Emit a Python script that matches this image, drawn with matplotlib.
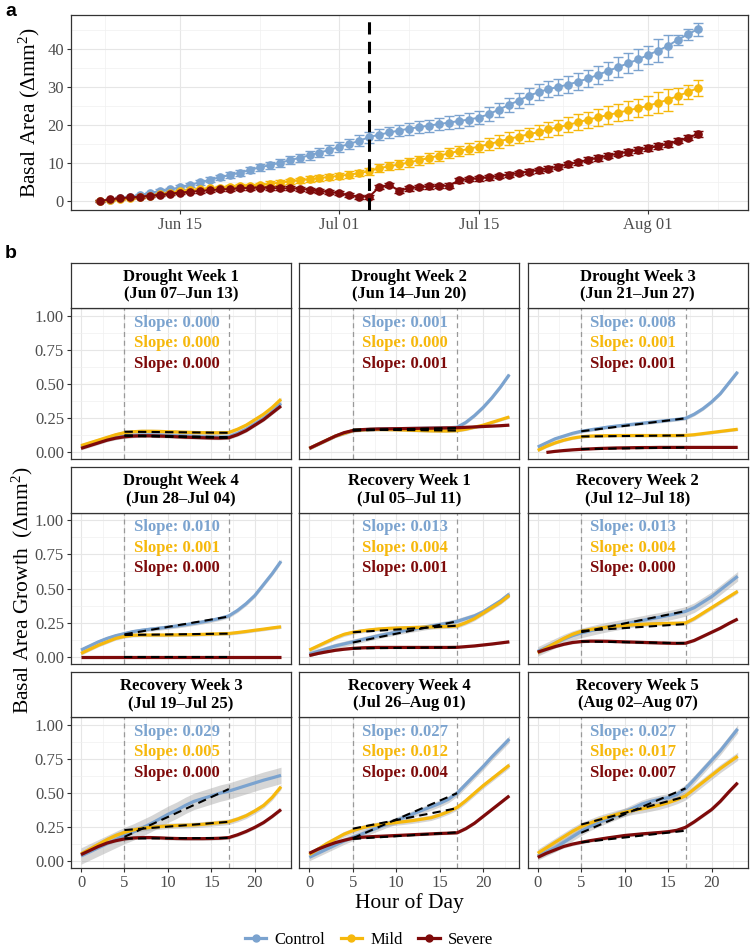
import numpy as np
import pandas as pd
import matplotlib
matplotlib.use('Agg')
import matplotlib.pyplot as plt
import matplotlib.dates as mdates
from matplotlib.lines import Line2D

# ---------------- data: panel a (daily basal area) ----------------
groups = ['Control', 'Mild', 'Severe']
colors = ['#7BA3CF', '#F6B80C', '#7E0A0A']

dates = pd.date_range('2023-06-07', '2023-08-06', freq='D')

ctrl_area = [0.0, 0.3, 0.7, 1.1, 1.6, 2.1, 2.6, 3.0, 3.6, 4.2, 4.9, 5.5, 6.2, 6.8, 7.4, 8.1,
             8.8, 9.4, 10.0, 10.7, 11.3, 12.0, 12.7, 13.4, 14.2, 15.0, 15.8, 16.8, 17.4, 18.0,
             18.5, 19.0, 19.4, 19.8, 20.2, 20.6, 21.0, 21.4, 21.9, 22.8, 24.0, 25.2, 26.4, 27.6,
             28.6, 29.4, 30.0, 30.6, 31.4, 32.2, 33.2, 34.2, 35.2, 36.2, 37.2, 38.4, 39.5, 40.8,
             42.4, 43.8, 45.2]
mild_area = [0.0, 0.2, 0.4, 0.7, 1.0, 1.4, 1.8, 2.1, 2.5, 2.8, 3.1, 3.3, 3.5, 3.7, 3.9, 4.0,
             4.2, 4.5, 4.8, 5.1, 5.4, 5.7, 6.0, 6.3, 6.6, 6.9, 7.3, 7.8, 8.6, 9.1, 9.6, 10.1,
             10.7, 11.3, 11.9, 12.5, 13.1, 13.7, 14.3, 14.9, 15.6, 16.3, 16.9, 17.5, 18.1, 18.8,
             19.4, 20.0, 20.7, 21.4, 22.0, 22.6, 23.2, 23.8, 24.4, 25.0, 25.8, 26.6, 27.6, 28.6,
             29.7]
sev_area = [0.0, 0.4, 0.7, 0.9, 1.1, 1.4, 1.6, 1.9, 2.2, 2.4, 2.6, 2.8, 3.0, 3.1, 3.3, 3.4,
            3.5, 3.4, 3.3, 3.3, 3.2, 2.9, 2.6, 2.3, 2.0, 1.5, 1.1, 1.1, 3.6, 4.2, 2.7, 3.3,
            3.6, 3.8, 3.9, 4.0, 5.4, 5.7, 5.9, 6.2, 6.5, 6.9, 7.3, 7.7, 8.1, 8.5, 9.0, 9.6,
            10.2, 10.8, 11.3, 11.9, 12.4, 12.9, 13.4, 13.9, 14.4, 15.0, 15.8, 16.6, 17.6]

ctrl_se = [0.1, 0.15, 0.2, 0.25, 0.3, 0.35, 0.4, 0.45, 0.5, 0.55, 0.6, 0.65, 0.7, 0.75, 0.8,
           0.85, 0.9, 0.95, 1.0, 1.05, 1.1, 1.15, 1.2, 1.25, 1.3, 1.35, 1.4, 1.45, 1.5, 1.5,
           1.55, 1.55, 1.6, 1.6, 1.65, 1.65, 1.7, 1.7, 1.75, 1.8, 1.85, 1.9, 1.95, 2.0, 2.05,
           2.1, 2.15, 2.2, 2.25, 2.3, 2.35, 2.45, 2.55, 2.65, 2.75, 2.4, 3.0, 2.85, 1.3, 1.5,
           1.7]
mild_se = [0.1, 0.12, 0.15, 0.18, 0.2, 0.22, 0.25, 0.28, 0.3, 0.33, 0.36, 0.4, 0.43, 0.46,
           0.5, 0.53, 0.56, 0.6, 0.63, 0.66, 0.7, 0.73, 0.76, 0.8, 0.83, 0.86, 0.88, 0.9, 1.0,
           1.05, 1.1, 1.15, 1.2, 1.25, 1.3, 1.35, 1.4, 1.45, 1.5, 1.6, 1.65, 1.7, 1.75, 1.8,
           1.85, 1.9, 1.95, 2.0, 2.05, 2.1, 2.2, 2.25, 2.3, 2.4, 2.45, 2.5, 2.8, 2.9, 2.0, 1.8,
           2.0]
sev_se = [0.2, 0.2, 0.25, 0.25, 0.3, 0.3, 0.3, 0.35, 0.35, 0.35, 0.4, 0.4, 0.4, 0.45, 0.45,
          0.45, 0.5, 0.5, 0.5, 0.5, 0.5, 0.55, 0.55, 0.55, 0.55, 0.55, 0.55, 0.55, 0.6, 0.6,
          0.6, 0.6, 0.6, 0.6, 0.6, 0.6, 0.6, 0.6, 0.6, 0.6, 0.6, 0.6, 0.6, 0.65, 0.65, 0.65,
          0.65, 0.65, 0.65, 0.65, 0.7, 0.7, 0.7, 0.7, 0.7, 0.7, 0.7, 0.7, 0.7, 0.7, 0.7]

# ---------------- data: panel b (hourly growth per week) ----------------
hours = list(range(24))
week_names = ['Drought Week 1', 'Drought Week 2', 'Drought Week 3', 'Drought Week 4',
              'Recovery Week 1', 'Recovery Week 2', 'Recovery Week 3', 'Recovery Week 4',
              'Recovery Week 5']
week_ranges = ['(Jun 07\u2013Jun 13)', '(Jun 14\u2013Jun 20)', '(Jun 21\u2013Jun 27)',
               '(Jun 28\u2013Jul 04)', '(Jul 05\u2013Jul 11)', '(Jul 12\u2013Jul 18)',
               '(Jul 19\u2013Jul 25)', '(Jul 26\u2013Aug 01)', '(Aug 02\u2013Aug 07)']

ctrl_growth = [
    [0.04, 0.06, 0.08, 0.10, 0.11, 0.12, 0.125, 0.128, 0.128, 0.127, 0.125, 0.122, 0.12, 0.117, 0.115, 0.113, 0.112, 0.115, 0.14, 0.17, 0.21, 0.25, 0.30, 0.36],
    [0.03, 0.06, 0.09, 0.12, 0.14, 0.16, 0.165, 0.17, 0.172, 0.173, 0.174, 0.175, 0.176, 0.177, 0.178, 0.179, 0.18, 0.185, 0.22, 0.27, 0.33, 0.40, 0.48, 0.57],
    [0.04, 0.07, 0.10, 0.12, 0.14, 0.155, 0.165, 0.175, 0.185, 0.193, 0.2, 0.207, 0.214, 0.221, 0.228, 0.235, 0.242, 0.25, 0.28, 0.32, 0.37, 0.43, 0.51, 0.59],
    [0.05, 0.08, 0.11, 0.135, 0.155, 0.17, 0.185, 0.195, 0.203, 0.21, 0.218, 0.226, 0.235, 0.245, 0.256, 0.268, 0.282, 0.30, 0.34, 0.39, 0.45, 0.53, 0.61, 0.70],
    [0.02, 0.04, 0.06, 0.08, 0.095, 0.11, 0.125, 0.14, 0.155, 0.168, 0.18, 0.192, 0.203, 0.214, 0.225, 0.236, 0.247, 0.26, 0.28, 0.30, 0.33, 0.37, 0.41, 0.46],
    [0.04, 0.07, 0.10, 0.13, 0.155, 0.175, 0.19, 0.205, 0.218, 0.23, 0.242, 0.254, 0.266, 0.278, 0.29, 0.303, 0.317, 0.333, 0.36, 0.40, 0.44, 0.49, 0.54, 0.59],
    [0.04, 0.07, 0.10, 0.13, 0.16, 0.19, 0.215, 0.245, 0.275, 0.31, 0.345, 0.375, 0.41, 0.44, 0.46, 0.48, 0.50, 0.515, 0.535, 0.555, 0.575, 0.595, 0.612, 0.63],
    [0.03, 0.06, 0.09, 0.12, 0.15, 0.177, 0.2, 0.225, 0.25, 0.275, 0.30, 0.325, 0.35, 0.375, 0.4, 0.425, 0.455, 0.50, 0.565, 0.63, 0.695, 0.765, 0.83, 0.896],
    [0.04, 0.07, 0.10, 0.14, 0.18, 0.22, 0.255, 0.285, 0.31, 0.335, 0.36, 0.39, 0.42, 0.44, 0.455, 0.467, 0.49, 0.533, 0.6, 0.67, 0.74, 0.81, 0.89, 0.97],
]
mild_growth = [
    [0.05, 0.07, 0.09, 0.11, 0.13, 0.145, 0.152, 0.155, 0.155, 0.154, 0.152, 0.15, 0.148, 0.146, 0.145, 0.144, 0.144, 0.146, 0.17, 0.2, 0.24, 0.28, 0.33, 0.39],
    [0.03, 0.06, 0.09, 0.12, 0.14, 0.16, 0.165, 0.168, 0.168, 0.167, 0.166, 0.164, 0.162, 0.16, 0.158, 0.157, 0.157, 0.16, 0.17, 0.185, 0.2, 0.22, 0.24, 0.26],
    [0.015, 0.045, 0.07, 0.09, 0.105, 0.115, 0.12, 0.122, 0.123, 0.124, 0.124, 0.124, 0.124, 0.124, 0.124, 0.124, 0.124, 0.125, 0.13, 0.138, 0.146, 0.154, 0.162, 0.17],
    [0.025, 0.055, 0.085, 0.11, 0.135, 0.15, 0.158, 0.16, 0.16, 0.16, 0.16, 0.161, 0.162, 0.163, 0.165, 0.167, 0.169, 0.171, 0.178, 0.186, 0.195, 0.203, 0.212, 0.22],
    [0.05, 0.08, 0.11, 0.14, 0.165, 0.18, 0.19, 0.198, 0.204, 0.208, 0.211, 0.213, 0.215, 0.217, 0.219, 0.221, 0.223, 0.226, 0.25, 0.28, 0.32, 0.36, 0.40, 0.45],
    [0.03, 0.065, 0.1, 0.135, 0.165, 0.187, 0.2, 0.21, 0.218, 0.225, 0.23, 0.235, 0.238, 0.241, 0.243, 0.245, 0.246, 0.248, 0.28, 0.32, 0.36, 0.40, 0.44, 0.48],
    [0.055, 0.09, 0.125, 0.16, 0.19, 0.213, 0.23, 0.242, 0.25, 0.255, 0.26, 0.263, 0.265, 0.267, 0.272, 0.278, 0.284, 0.29, 0.31, 0.335, 0.37, 0.41, 0.47, 0.547],
    [0.05, 0.09, 0.13, 0.165, 0.2, 0.225, 0.245, 0.26, 0.27, 0.278, 0.285, 0.292, 0.3, 0.31, 0.32, 0.34, 0.365, 0.395, 0.445, 0.50, 0.555, 0.605, 0.655, 0.705],
    [0.06, 0.1, 0.14, 0.18, 0.22, 0.255, 0.28, 0.305, 0.325, 0.343, 0.36, 0.375, 0.385, 0.398, 0.412, 0.43, 0.452, 0.48, 0.53, 0.58, 0.63, 0.68, 0.725, 0.77],
]
sev_growth = [
    [0.03, 0.05, 0.07, 0.09, 0.105, 0.115, 0.12, 0.122, 0.122, 0.12, 0.118, 0.115, 0.112, 0.11, 0.108, 0.106, 0.105, 0.108, 0.13, 0.16, 0.2, 0.24, 0.29, 0.34],
    [0.03, 0.06, 0.09, 0.12, 0.145, 0.16, 0.167, 0.17, 0.172, 0.173, 0.174, 0.175, 0.176, 0.177, 0.178, 0.179, 0.18, 0.181, 0.184, 0.187, 0.19, 0.193, 0.196, 0.20],
    [np.nan, 0.0, 0.008, 0.014, 0.019, 0.023, 0.026, 0.029, 0.031, 0.033, 0.034, 0.035, 0.036, 0.036, 0.037, 0.037, 0.037, 0.037, 0.037, 0.037, 0.037, 0.037, 0.037, 0.037],
    [0.0, 0.0, 0.0, 0.0, 0.0, 0.0, 0.0, 0.0, 0.0, 0.0, 0.0, 0.0, 0.0, 0.0, 0.0, 0.0, 0.0, 0.0, 0.0, 0.0, 0.0, 0.0, 0.0, 0.0],
    [0.01, 0.025, 0.037, 0.048, 0.056, 0.062, 0.066, 0.068, 0.069, 0.069, 0.069, 0.069, 0.069, 0.069, 0.069, 0.069, 0.069, 0.07, 0.075, 0.08, 0.087, 0.094, 0.102, 0.11],
    [0.035, 0.055, 0.075, 0.092, 0.105, 0.112, 0.115, 0.115, 0.114, 0.112, 0.11, 0.108, 0.106, 0.104, 0.102, 0.1, 0.099, 0.1, 0.12, 0.15, 0.18, 0.21, 0.245, 0.277],
    [0.05, 0.08, 0.11, 0.135, 0.152, 0.165, 0.172, 0.175, 0.175, 0.173, 0.17, 0.168, 0.167, 0.167, 0.167, 0.168, 0.17, 0.175, 0.195, 0.22, 0.25, 0.285, 0.33, 0.38],
    [0.06, 0.09, 0.115, 0.138, 0.155, 0.17, 0.177, 0.181, 0.184, 0.187, 0.19, 0.193, 0.196, 0.199, 0.202, 0.205, 0.207, 0.21, 0.24, 0.28, 0.33, 0.38, 0.43, 0.48],
    [0.03, 0.06, 0.085, 0.11, 0.127, 0.14, 0.152, 0.162, 0.172, 0.181, 0.19, 0.196, 0.202, 0.207, 0.212, 0.218, 0.228, 0.25, 0.29, 0.335, 0.38, 0.44, 0.51, 0.576],
]

# linear fit between hour 5 and hour 17 (value at 5, value at 17)
fit_hours = [5, 17]
ctrl_fit = [(0.125, 0.112), (0.165, 0.178), (0.155, 0.25), (0.165, 0.295), (0.105, 0.26),
            (0.18, 0.335), (0.18, 0.53), (0.17, 0.50), (0.21, 0.535)]
mild_fit = [(0.152, 0.144), (0.168, 0.16), (0.117, 0.125), (0.16, 0.17), (0.18, 0.228),
            (0.19, 0.24), (0.23, 0.29), (0.24, 0.39), (0.27, 0.475)]
sev_fit = [(0.122, 0.106), (0.16, 0.178), (0.025, 0.037), (0.0, 0.0), (0.062, 0.07),
           (0.113, 0.10), (0.168, 0.172), (0.165, 0.213), (0.14, 0.225)]

ctrl_slope = ['0.000', '0.001', '0.008', '0.010', '0.013', '0.013', '0.029', '0.027', '0.027']
mild_slope = ['0.000', '0.000', '0.001', '0.001', '0.004', '0.004', '0.005', '0.012', '0.017']
sev_slope = ['0.000', '0.001', '0.001', '0.000', '0.001', '0.000', '0.000', '0.004', '0.007']

# half width of the confidence ribbon
ctrl_band = [0.015, 0.012, 0.012, 0.015, 0.02, 0.035, 0.06, 0.025, 0.03]
mild_band = [0.015, 0.01, 0.01, 0.012, 0.015, 0.015, 0.02, 0.02, 0.03]
sev_band = [0.012, 0.008, 0.005, 0.003, 0.008, 0.01, 0.012, 0.01, 0.012]

# ---------------- style ----------------
SERIF = 'Liberation Serif'
plt.rcParams['font.family'] = [SERIF, 'DejaVu Serif']
plt.rcParams['mathtext.fontset'] = 'custom'
plt.rcParams['mathtext.rm'] = SERIF
plt.rcParams['mathtext.it'] = SERIF + ':italic'
plt.rcParams['axes.linewidth'] = 0.9
plt.rcParams['axes.edgecolor'] = '#333333'

W, H = 750, 948
fig = plt.figure(figsize=(W / 100, H / 100), dpi=100)


def px_axes(x0, y0, w, h):
    return fig.add_axes([x0 / W, 1 - (y0 + h) / H, w / W, h / H])


def style_axes(ax):
    ax.set_facecolor('white')
    ax.grid(True, which='major', color='#E6E6E6', lw=0.8)
    ax.grid(True, which='minor', color='#F0F0F0', lw=0.5)
    ax.set_axisbelow(True)
    ax.tick_params(which='major', length=3, width=0.8, color='#333333',
                   labelsize=12, labelcolor='#4D4D4D', pad=2)
    ax.tick_params(which='minor', length=0)


# ---------------- panel a ----------------
axa = px_axes(71, 15, 677, 195)
style_axes(axa)
for vals, se, col in zip([ctrl_area, mild_area, sev_area], [ctrl_se, mild_se, sev_se], colors):
    axa.errorbar(dates, vals, yerr=se, fmt='-o', color=col, ms=5.2, lw=1.4,
                 elinewidth=1.0, capsize=3.8, capthick=1.0, zorder=3)
axa.axvline(pd.Timestamp('2023-07-04'), color='black', lw=2.2, ls=(0, (4, 2.4)), zorder=4)

axa.set_xlim(pd.Timestamp('2023-06-04 01:00'), pd.Timestamp('2023-08-11 01:00'))
axa.set_ylim(-2.4, 48.9)
major_dates = [pd.Timestamp(d) for d in ['2023-06-15', '2023-07-01', '2023-07-15', '2023-08-01']]
minor_dates = [pd.Timestamp(d) for d in ['2023-06-07 12:00', '2023-06-23 00:00', '2023-07-08 00:00',
                                         '2023-07-23 12:00', '2023-08-08 00:00']]
axa.set_xticks(mdates.date2num(major_dates))
axa.set_xticks(mdates.date2num(minor_dates), minor=True)
axa.xaxis.set_major_formatter(mdates.DateFormatter('%b %d'))
axa.set_yticks([0, 10, 20, 30, 40])
axa.set_yticks([5, 15, 25, 35, 45], minor=True)
axa.set_ylabel('Basal Area (\u0394mm$^{2}$)', fontsize=15.5, labelpad=4)

fig.text(5 / W, 1 - 12 / H, 'a', fontsize=14, fontweight='bold',
         family='Liberation Sans', va='center', ha='left')
fig.text(5 / W, 1 - 253 / H, 'b', fontsize=14, fontweight='bold',
         family='Liberation Sans', va='center', ha='left')

# ---------------- panel b ----------------
col_left = [71, 299.3, 527.7]
panel_top = [308.3, 512.7, 717.3]
panel_w = 220
panel_h = 151
strip_h = 45.6

curve_sets = [ctrl_growth, mild_growth, sev_growth]
fit_sets = [ctrl_fit, mild_fit, sev_fit]
slope_sets = [ctrl_slope, mild_slope, sev_slope]
band_sets = [ctrl_band, mild_band, sev_band]
text_y = [0.95, 0.80, 0.65]

for i in range(9):
    r, c = divmod(i, 3)
    ax = px_axes(col_left[c], panel_top[r], panel_w, panel_h)
    style_axes(ax)
    hrs = np.array(hours)
    for g in range(3):
        y = np.array(curve_sets[g][i], dtype=float)
        hw = band_sets[g][i]
        ax.fill_between(hrs, y - hw, y + hw, color='#999999', alpha=0.4, lw=0, zorder=2)
        ax.plot(hrs, y, color=colors[g], lw=2.3, solid_capstyle='butt', zorder=3)
    for g in range(3):
        ax.plot(fit_hours, fit_sets[g][i], color='black', lw=1.5, ls=(0, (4, 2.5)), zorder=4)
    for xv in fit_hours:
        ax.axvline(xv, color='#999999', lw=0.9, ls=(0, (4, 3)), zorder=2.5)
    for g in range(3):
        ax.text(11, text_y[g], 'Slope: ' + slope_sets[g][i], color=colors[g],
                fontsize=12, fontweight='bold', ha='center', va='center', zorder=5)

    ax.set_xlim(-1.15, 24.15)
    ax.set_ylim(-0.05, 1.055)
    ax.set_xticks([0, 5, 10, 15, 20])
    ax.set_xticks([2.5, 7.5, 12.5, 17.5, 22.5], minor=True)
    ax.set_yticks([0, 0.25, 0.5, 0.75, 1.0])
    ax.set_yticks([0.125, 0.375, 0.625, 0.875], minor=True)
    if c == 0:
        ax.set_yticklabels(['0.00', '0.25', '0.50', '0.75', '1.00'])
    else:
        ax.tick_params(axis='y', which='major', length=0, labelleft=False)
    if r < 2:
        ax.tick_params(axis='x', which='major', length=0, labelbottom=False)

    sax = px_axes(col_left[c], panel_top[r] - strip_h, panel_w, strip_h)
    sax.set_xticks([])
    sax.set_yticks([])
    sax.set_facecolor('white')
    sax.text(0.5, 0.5, week_names[i] + '\n' + week_ranges[i], ha='center', va='center',
             fontsize=12, fontweight='bold', linespacing=1.1, transform=sax.transAxes)

fig.text(22 / W, 1 - 590 / H, 'Basal Area Growth  (\u0394mm$^{2}$)', rotation=90,
         fontsize=15.5, ha='center', va='center')
fig.text(409 / W, 1 - 903 / H, 'Hour of Day', fontsize=15.5, ha='center', va='center')

handles = [Line2D([0], [0], color=col, lw=2.3, marker='o', ms=5) for col in colors]
fig.legend(handles, groups, loc='center', bbox_to_anchor=(369 / W, 1 - 940 / H), ncol=3,
           frameon=False, fontsize=12, handlelength=1.3, handletextpad=0.5,
           columnspacing=0.9, borderpad=0)

fig.savefig('out.png', dpi=100)
